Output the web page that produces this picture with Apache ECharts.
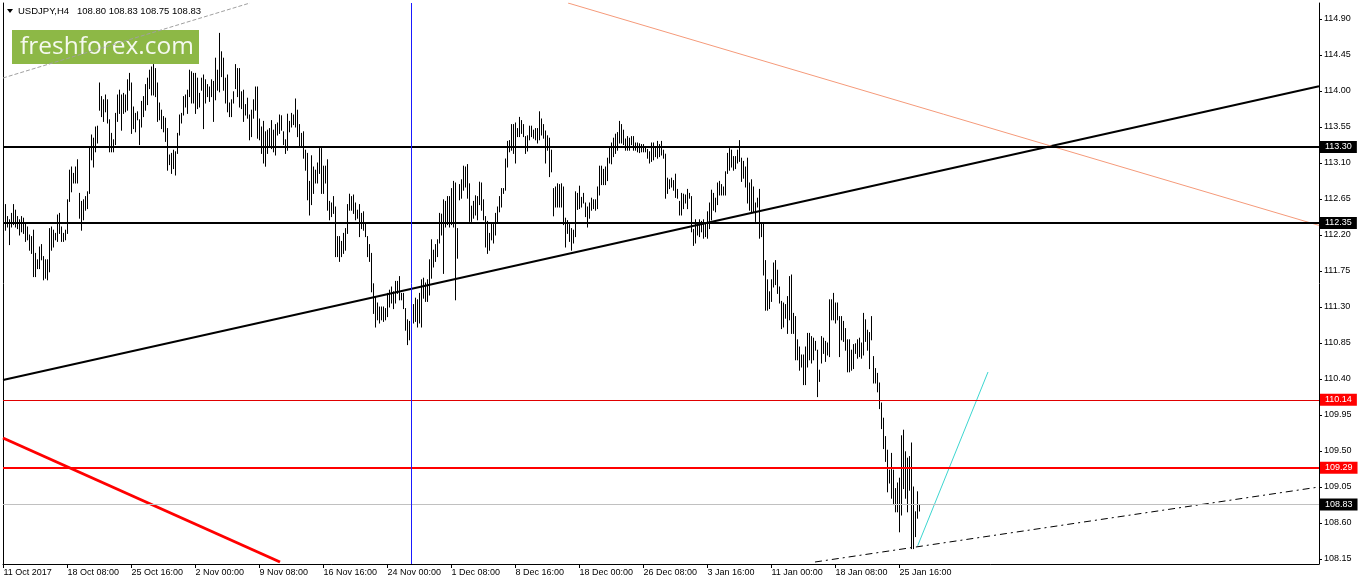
<!DOCTYPE html>
<html><head><meta charset="utf-8">
<script src="https://cdn.jsdelivr.net/npm/echarts@6/dist/echarts.min.js"></script>
<style>html,body{margin:0;padding:0;background:#fff}#c{width:1358px;height:584px}</style>
</head><body><div id="c"></div>
<script>
// ---- data (USDJPY H4, bar index 0 = 11 Oct 2017 00:00) ----
const highs = [
112.43,112.58,112.43,112.39,112.47,112.58,112.51,112.43,112.39,112.43,
112.41,112.35,112.30,112.20,112.18,112.26,111.97,111.89,112.05,112.08,
111.93,111.89,111.89,112.28,112.30,112.26,112.22,112.45,112.47,112.30,
112.22,112.26,112.64,113.01,113.05,112.97,113.05,113.14,112.72,112.62,
112.64,112.68,112.74,113.30,113.45,113.41,113.55,113.56,114.10,113.93,
113.89,113.95,113.89,113.64,113.47,113.39,113.72,113.95,114.01,113.95,
113.97,113.95,114.14,114.22,114.10,113.80,113.72,113.74,113.64,113.87,
113.93,114.08,114.16,114.26,114.30,114.33,114.28,114.10,113.85,113.76,
113.68,113.66,113.53,113.20,113.22,113.26,113.24,113.47,113.70,113.72,
113.93,113.95,114.01,114.26,114.24,114.22,114.22,114.16,113.97,114.16,
114.20,114.14,114.08,114.05,114.14,114.12,114.41,114.26,114.72,114.49,
114.41,114.16,114.20,113.85,113.89,113.99,
114.33,114.28,114.28,113.99,114.01,113.83,113.91,113.70,113.76,113.89,
114.05,114.05,113.65,113.55,113.62,113.49,113.51,113.53,113.63,113.51,
113.58,113.60,113.70,113.69,113.49,113.39,113.71,113.62,113.72,113.70,
113.90,113.76,113.58,113.47,113.49,113.26,113.22,112.87,113.19,113.05,
113.01,113.10,113.28,113.28,113.06,113.06,113.14,112.62,112.60,112.68,
112.55,112.18,112.18,112.12,112.22,112.28,112.58,112.71,112.68,112.70,
112.60,112.51,112.58,112.47,112.49,112.35,112.18,112.08,111.97,111.59,
111.43,111.35,111.30,111.30,111.30,111.28,111.47,111.51,111.55,111.49,
111.62,111.62,111.68,111.47,111.47,111.28,111.14,111.12,111.33,111.33,
111.41,111.39,111.47,111.64,111.66,111.60,111.64,111.89,112.14,112.01,
112.08,112.14,112.47,112.46,112.64,112.62,112.68,112.68,112.78,112.87,
112.85,112.28,112.83,112.89,113.06,
113.05,113.08,112.84,112.56,112.62,112.69,112.68,112.86,112.85,112.64,
112.43,112.37,112.22,112.35,112.33,112.47,112.55,112.68,112.78,112.78,
113.15,113.37,113.38,113.58,113.58,113.60,113.53,113.67,113.63,113.58,
113.43,113.44,113.56,113.56,113.51,113.53,113.53,113.74,113.65,113.58,
113.50,113.44,113.41,113.26,112.78,112.80,112.84,112.83,112.84,112.80,
112.41,112.38,112.33,112.28,112.26,112.74,112.72,112.81,112.67,112.72,
112.60,112.55,112.60,112.66,112.64,112.64,112.80,113.06,113.06,113.02,
113.05,113.16,113.30,113.35,113.41,113.46,113.48,113.62,113.58,113.51,
113.40,113.43,113.41,113.43,113.43,113.35,113.35,113.34,113.33,113.33,
113.30,113.27,113.24,113.35,113.35,113.28,113.37,113.33,113.37,113.26,
113.21,112.91,112.89,112.91,112.88,112.96,112.77,112.62,112.72,112.71,
112.70,112.77,112.72,112.68,112.27,
112.39,112.35,112.39,112.37,112.39,112.35,112.49,112.60,112.76,112.72,
112.66,112.85,112.87,112.83,112.80,112.99,113.22,113.28,113.26,113.18,
113.18,113.26,113.38,113.16,113.12,113.05,113.16,112.85,112.89,112.80,
112.60,112.66,112.77,112.35,112.35,111.88,111.64,111.49,111.64,111.85,
111.88,111.76,111.55,111.37,111.35,111.33,111.43,111.68,111.70,111.22,
111.18,110.89,110.80,110.70,110.70,110.80,110.97,110.97,110.93,110.91,
110.87,110.76,110.51,110.93,110.91,110.87,110.85,111.39,111.39,111.47,
111.35,111.35,111.18,111.18,111.12,111.03,110.89,110.89,110.76,110.83,
110.84,110.89,110.91,110.85,111.22,111.14,111.01,110.98,111.18,110.68,
110.53,110.47,110.35,110.10,109.91,109.68,109.51,109.26,109.47,109.26,
109.03,109.10,109.16,109.69,109.76,109.49,109.41,109.43,109.60,109.05,
108.74,108.99,108.83
];
const lows = [
112.22,112.26,112.30,112.08,112.30,112.33,112.30,112.28,112.20,112.24,
112.22,112.12,112.14,112.01,111.97,111.68,111.68,111.78,111.78,111.89,
111.64,111.66,111.64,111.74,112.01,112.05,112.14,112.12,112.22,112.12,
112.12,112.14,112.22,112.62,112.74,112.85,112.85,112.85,112.41,112.26,
112.39,112.51,112.53,112.72,113.14,113.05,113.24,113.35,113.76,113.68,
113.62,113.74,113.60,113.24,113.24,113.24,113.33,113.62,113.72,113.51,
113.72,113.74,113.76,114.01,113.47,113.53,113.49,113.64,113.33,113.55,
113.68,113.76,113.83,114.03,113.95,113.95,113.93,113.62,113.64,113.53,
113.49,113.37,113.01,113.08,112.97,113.03,112.95,113.22,113.45,113.60,
113.70,113.80,113.72,113.93,113.85,113.85,113.72,113.78,113.80,114.01,
113.53,113.85,113.93,113.87,113.93,113.62,113.89,114.01,113.99,114.18,
114.01,113.85,113.74,113.68,113.68,113.85,
114.03,113.93,113.80,113.78,113.62,113.70,113.66,113.39,113.43,113.66,
113.76,113.41,113.39,113.22,113.10,113.06,113.22,113.30,113.28,113.24,
113.20,113.45,113.47,113.51,113.33,113.22,113.26,113.49,113.55,113.58,
113.55,113.43,113.30,113.30,113.16,113.01,112.64,112.45,112.58,112.72,
112.85,112.85,112.97,112.72,112.72,112.85,112.51,112.39,112.43,112.47,
111.93,111.93,111.87,111.93,111.97,112.01,112.22,112.51,112.51,112.47,
112.39,112.41,112.18,112.28,112.26,112.18,111.93,111.87,111.49,111.22,
111.05,111.14,111.10,111.14,111.12,111.14,111.18,111.30,111.35,111.28,
111.35,111.47,111.39,111.39,111.28,111.01,110.83,110.89,111.10,111.10,
111.12,111.05,111.10,111.05,111.41,111.37,111.37,111.45,111.66,111.80,
111.87,111.93,112.10,112.20,111.72,112.30,112.33,112.30,112.33,112.30,
111.39,111.91,112.64,112.66,112.76,
112.80,112.66,112.37,112.37,112.41,112.45,112.39,112.58,112.51,112.39,
112.05,111.97,112.01,112.14,112.10,112.20,112.35,112.49,112.55,112.72,
112.76,113.05,113.24,113.26,113.22,113.10,113.43,113.43,113.47,113.43,
113.22,113.25,113.39,113.43,113.41,113.39,113.35,113.39,113.45,113.41,
113.10,113.26,112.93,112.99,112.44,112.55,112.55,112.55,112.55,112.33,
112.05,112.22,112.12,112.01,112.10,112.18,112.52,112.53,112.55,112.60,
112.43,112.30,112.41,112.51,112.53,112.51,112.53,112.70,112.83,112.83,
112.83,112.88,113.10,113.09,113.18,113.22,113.26,113.35,113.35,113.33,
113.26,113.26,113.26,113.33,113.26,113.26,113.24,113.23,113.24,113.24,
113.24,113.16,113.10,113.12,113.14,113.18,113.16,113.18,113.20,113.16,
112.66,112.72,112.78,112.80,112.76,112.67,112.66,112.45,112.45,112.53,
112.60,112.53,112.66,112.24,112.07,
112.10,112.20,112.18,112.24,112.16,112.18,112.16,112.28,112.39,112.51,
112.49,112.58,112.70,112.70,112.70,112.70,112.97,113.01,113.05,113.01,
113.03,113.10,113.12,112.87,112.91,112.80,112.60,112.51,112.49,112.49,
112.37,112.55,112.16,112.18,111.70,111.26,111.26,111.28,111.37,111.55,
111.58,111.47,111.35,111.03,111.05,111.16,110.97,111.14,110.97,110.97,
110.64,110.64,110.51,110.55,110.33,110.33,110.55,110.64,110.60,110.64,
110.76,110.18,110.37,110.60,110.72,110.62,110.70,110.68,111.14,111.14,
111.10,111.14,110.68,110.89,110.87,110.76,110.49,110.49,110.51,110.53,
110.72,110.66,110.68,110.66,110.70,110.87,110.76,110.53,110.89,110.35,
110.35,110.24,110.03,109.78,109.53,109.37,108.99,109.10,108.91,108.83,
108.74,108.74,108.49,108.70,109.03,108.91,108.74,109.01,108.28,108.28,
108.43,108.66,108.75
];
const xTickIndex = [0,32,64,96,128,160,192,224,256,288,320,352,384,416,448];
const xTickLabels = ["11 Oct 2017","18 Oct 08:00","25 Oct 16:00","2 Nov 00:00","9 Nov 08:00","16 Nov 16:00","24 Nov 00:00","1 Dec 08:00","8 Dec 16:00","18 Dec 00:00","26 Dec 08:00","3 Jan 16:00","11 Jan 00:00","18 Jan 08:00","25 Jan 16:00"];
const yTickValues = [108.15,108.60,109.05,109.50,109.95,110.40,110.85,111.30,111.75,112.20,112.65,113.10,113.55,114.00,114.45,114.90];
const levelValues = [113.30, 112.35, 110.14, 109.29, 108.83];
const verticalLineIndex = 204;
const trend12 = [[-0.25,110.3875],[657.75,114.059]];
const trendOrange = [[282.25,115.10],[657.75,112.32]];
const trendGray = [[-0.25,114.1625],[123.25,115.10]];
const trend11 = [[-0.25,109.6625],[138.25,108.1125]];
const trendCyan = [[457.1,108.316],[492.25,110.4875]];
const trend13 = [[405.75,108.1125],[657.75,109.05]];
const labelPoints = [[59.25,108.6875],[551.75,113.7375],[539.25,108.7625]];
const labelTexts = ['1:1','1:2','1:3'];
const quote = {symbol:'USDJPY,H4', values:['108.80','108.83','108.75','108.83']};

// ---- chart ----
const FONT = '"Liberation Sans", Arial, sans-serif';
const chart = echarts.init(document.getElementById('c'));
const bars = highs.map((h,i)=>[i, lows[i], h]);
const levelStyles = [
  {line:{color:'#000',width:2}, bg:'#000'},
  {line:{color:'#000',width:2}, bg:'#000'},
  {line:{color:'#e00000',width:1}, bg:'#ff0000'},
  {line:{color:'#ff0000',width:2}, bg:'#ff0000'},
  {line:{color:'#c0c0c0',width:1}, bg:'#000'}
];
const mlData = levelValues.map((v,k)=>({
  yAxis:v,
  lineStyle:Object.assign({type:'solid'}, levelStyles[k].line),
  label:{show:true, position:'end', distance:1, formatter:v.toFixed(2), color:'#fff',
    backgroundColor:levelStyles[k].bg, padding:[2,5,1,5], fontSize:9, fontFamily:FONT}
}));
mlData.push({xAxis:verticalLineIndex, lineStyle:{color:'#1a1aff',width:1,type:'solid'}, label:{show:false}});

function lineSeries(data, color, width, type){
  return {type:'line', data:data, symbol:'none', clip:true, silent:true, z:4,
    lineStyle:{color:color, width:width, type:type}};
}
const s12 = lineSeries(trend12,'#000',2,'solid');
s12.markLine = {symbol:['none','none'], silent:true, animation:false, data:mlData};

const option = {
  animation:false,
  backgroundColor:'#fff',
  grid:{left:3, top:3, width:1316, height:561},
  xAxis:{type:'value', min:-0.25, max:657.75,
    axisLine:{show:true, onZero:false, lineStyle:{color:'#000',width:1}},
    axisTick:{show:true, customValues:xTickIndex, length:4, lineStyle:{color:'#000'}},
    axisLabel:{show:true, customValues:xTickIndex, formatter:(v)=>{const k=xTickIndex.indexOf(Math.round(v));return k>=0?xTickLabels[k]:'';},
      align:'left', margin:4, color:'#000', fontSize:9, fontFamily:FONT},
    splitLine:{show:false}},
  yAxis:[
    {type:'value', position:'right', min:108.0875, max:115.10,
      axisLine:{show:true, onZero:false, lineStyle:{color:'#000',width:1}},
      axisTick:{show:true, customValues:yTickValues, length:3, lineStyle:{color:'#000'}},
      axisLabel:{show:true, customValues:yTickValues, formatter:(v)=>v.toFixed(2), margin:5, color:'#000', fontSize:9, fontFamily:FONT},
      splitLine:{show:false}},
    {type:'value', position:'left', min:108.0875, max:115.10,
      axisLine:{show:true, onZero:false, lineStyle:{color:'#000',width:1}},
      axisTick:{show:false}, axisLabel:{show:false}, splitLine:{show:false}}
  ],
  series:[
    {type:'custom', data:bars, encode:{x:0, y:[1,2]}, clip:true, silent:true, z:2,
      renderItem:(params, api)=>{
        const x=api.value(0), lo=api.value(1), hi=api.value(2);
        const a=api.coord([x,lo]), b=api.coord([x,hi]);
        return {type:'line', shape:{x1:a[0],y1:a[1]+0.5,x2:b[0],y2:b[1]-0.5}, style:{stroke:'#000', lineWidth:1}};
      }},
    s12,
    lineSeries(trendOrange,'#f59a7a',1,'solid'),
    lineSeries(trendGray,'#a0a0a0',1,[4,2]),
    lineSeries(trend11,'#ff0000',3,'solid'),
    lineSeries(trendCyan,'#3cd6d0',1,'solid'),
    lineSeries(trend13,'#000',1,[7,4,2,4]),
    {type:'scatter', symbolSize:1, itemStyle:{opacity:0}, silent:true, z:5,
      data:labelPoints.map((p,k)=>({value:p, label:{color:k===0?'#ff0000':'#000'}})),
      label:{show:true, position:'inside', formatter:(p)=>labelTexts[p.dataIndex], fontSize:10, fontFamily:FONT}}
  ],
  graphic:[
    {type:'polygon', shape:{points:[[7,9],[13,9],[10,13]]}, style:{fill:'#000'}, z:100},
    {type:'text', x:18, y:11, style:{text:quote.symbol+'   '+quote.values.join(' '), fill:'#000', font:'9.5px '+FONT, textVerticalAlign:'middle'}, z:100},
    {type:'group', z:100, children:[
      {type:'rect', shape:{x:12,y:30,width:187,height:34}, style:{fill:'#8db846'}},
      {type:'text', x:20, y:47.5, style:{text:'freshforex.com', fill:'#f5f9ef', font:'24.5px "Open Sans", sans-serif', textVerticalAlign:'middle'}}
    ]}
  ]
};
chart.setOption(option);
</script>
</body></html>
